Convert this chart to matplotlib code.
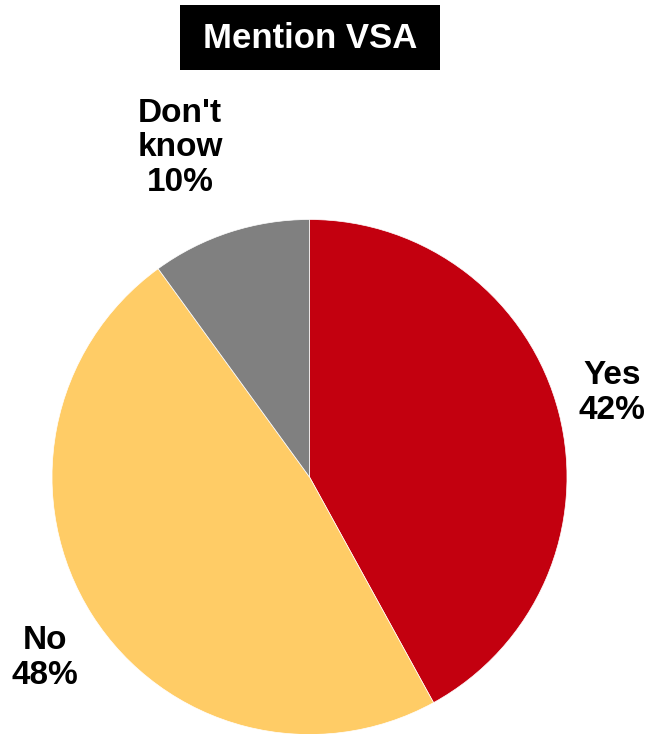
# pie of VSA mentions, saved to out.png
import matplotlib.pyplot as plt
from matplotlib.patches import Rectangle

labels = ["Yes", "No", "Don't\nknow"]
shares = [42, 48, 10]
colors = ["#C3000F", "#FFCC66", "#808080"]
# label centers in data units (pie radius = 1)
label_xy = [(1.175, 0.326), (-1.027, -0.703), (-0.503, 1.278)]

plt.rcParams['font.family'] = ['Liberation Sans', 'DejaVu Sans']

W, H = 649, 734
fig = plt.figure(figsize=(W / 100, H / 100), dpi=100)
cx, cy, r = 309.5, 477, 257.5
ax = fig.add_axes([(cx - r) / W, (H - cy - r) / H, 2 * r / W, 2 * r / H])
ax.pie(shares, colors=colors, startangle=90, counterclock=False,
       wedgeprops=dict(linewidth=0.5, edgecolor='white'))
ax.set_xlim(-1, 1); ax.set_ylim(-1, 1)
ax.set_aspect('equal')
ax.axis('off')

for lab, v, (x, y) in zip(labels, shares, label_xy):
    ax.text(x, y, f"{lab}\n{v}%", ha='center', va='center', fontsize=24,
            fontweight='bold', linespacing=1.15, clip_on=False)

# black title box
fig.patches.append(Rectangle((180 / W, 1 - 70 / H), 260 / W, 65 / H,
                             transform=fig.transFigure, facecolor='black',
                             edgecolor='none'))
fig.text(310 / W, 1 - 39 / H, "Mention VSA", ha='center', va='center',
         fontsize=25, fontweight='bold', color='white')

fig.savefig("out.png", dpi=100)
